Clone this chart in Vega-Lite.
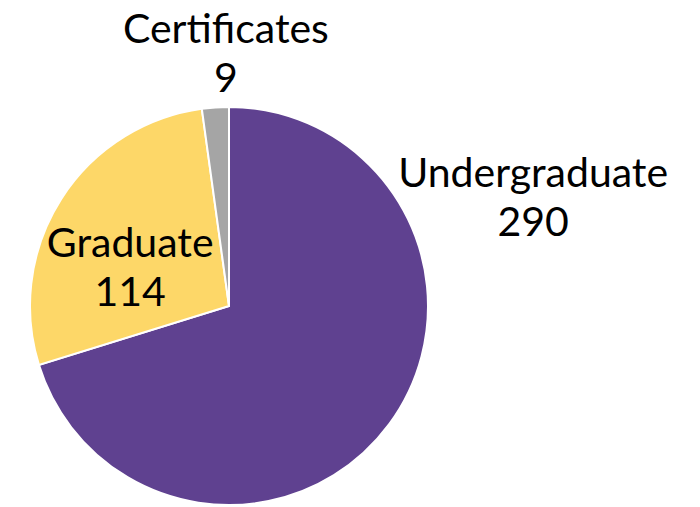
{
  "$schema": "https://vega.github.io/schema/vega-lite/v6.json",
  "width": 398,
  "height": 398,
  "autosize": {"type": "none"},
  "padding": {"left": 30, "top": 107, "right": 272, "bottom": 2},
  "background": "white",
  "view": {"stroke": null},
  "data": {"values": [
    {"category": "Undergraduate", "count": 290, "idx": 1},
    {"category": "Graduate", "count": 114, "idx": 2},
    {"category": "Certificates", "count": 9, "idx": 3}
  ]},
  "transform": [{"calculate": "datum.category + '\\n' + datum.count", "as": "label"}],
  "encoding": {
    "theta": {"field": "count", "type": "quantitative", "stack": true},
    "order": {"field": "idx", "type": "quantitative"}
  },
  "layer": [
    {
      "mark": {"type": "arc", "stroke": "white", "strokeWidth": 2},
      "encoding": {
        "color": {
          "field": "category",
          "type": "nominal",
          "scale": {"domain": ["Undergraduate", "Graduate", "Certificates"], "range": ["#5F4190", "#FDD768", "#A5A5A5"]},
          "legend": null
        }
      }
    },
    {
      "mark": {"type": "text", "radius": 250, "dx": 14, "dy": -26, "fontSize": 41, "font": "Lato", "lineBreak": "\n", "lineHeight": 49, "baseline": "middle", "align": "center", "color": "black"},
      "encoding": {"text": {"condition": {"test": "datum.category === 'Certificates'", "field": "label", "type": "nominal"}, "value": ""}}
    },
    {
      "mark": {"type": "text", "radius": 110, "dx": -6, "dy": -2, "fontSize": 41, "font": "Lato", "lineBreak": "\n", "lineHeight": 49, "baseline": "middle", "align": "center", "color": "black"},
      "encoding": {"text": {"condition": {"test": "datum.category === 'Graduate'", "field": "label", "type": "nominal"}, "value": ""}}
    },
    {
      "mark": {"type": "text", "radius": 230, "dx": 119, "dy": -267, "fontSize": 41, "font": "Lato", "lineBreak": "\n", "lineHeight": 49, "baseline": "middle", "align": "center", "color": "black"},
      "encoding": {"text": {"condition": {"test": "datum.category === 'Undergraduate'", "field": "label", "type": "nominal"}, "value": ""}}
    }
  ]
}
